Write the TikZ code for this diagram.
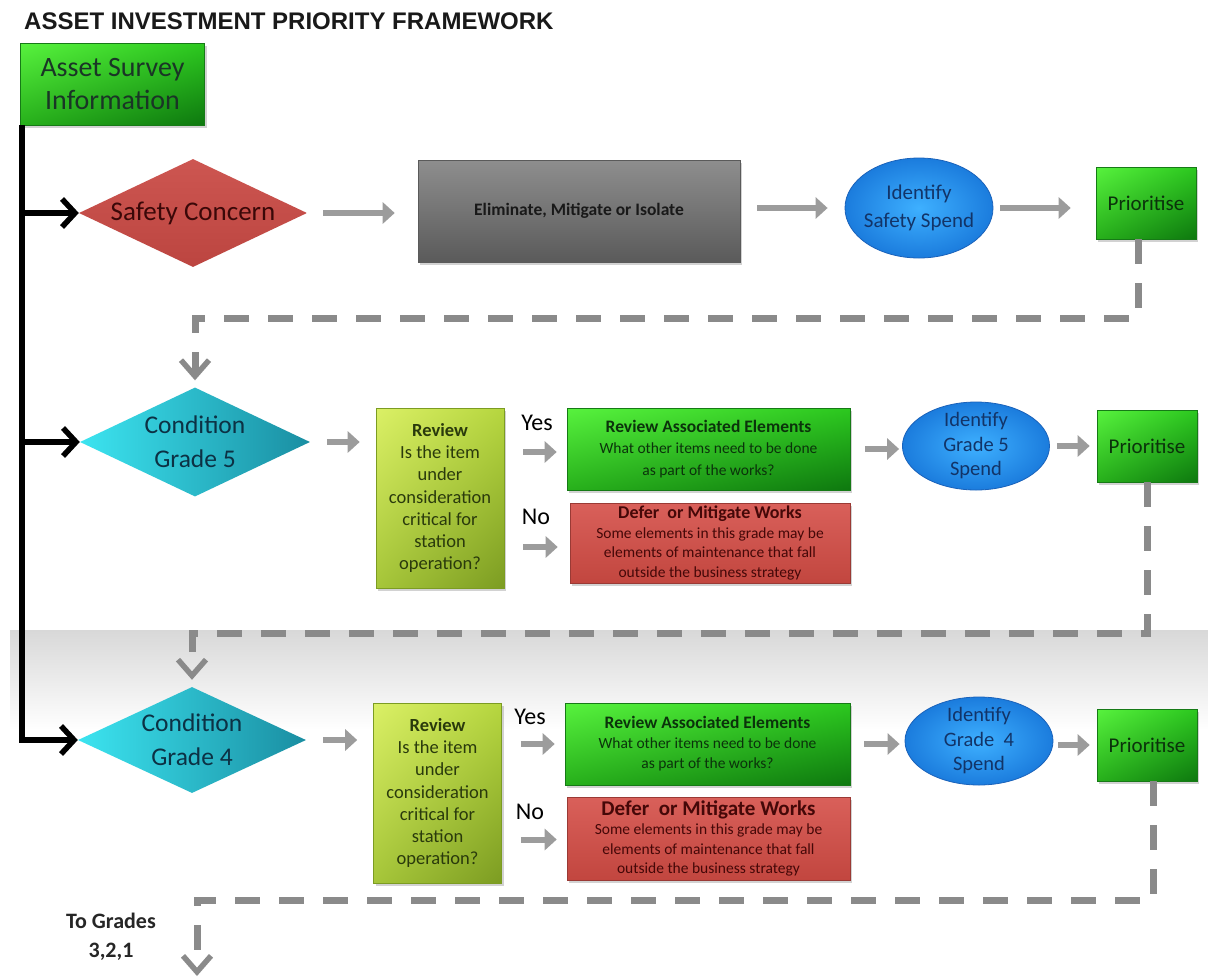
\documentclass[tikz,border=0pt]{standalone}
\usepackage{fontspec}
\setmainfont{Carlito}
\newfontfamily\titlefont{Liberation Sans}
\usetikzlibrary{shapes.geometric, arrows.meta, shadows, shadings}

\newcommand\setfs[2]{\fontsize{#1}{#2}\selectfont}

% palette
\definecolor{gUL}{HTML}{58F23E}
\definecolor{gUR}{HTML}{2CC81F}
\definecolor{gLL}{HTML}{27B01B}
\definecolor{gLR}{HTML}{0E780F}
\definecolor{gEdge}{HTML}{167A16}
\definecolor{safetyTop}{HTML}{CD5651}
\definecolor{safetyBot}{HTML}{BC4540}
\definecolor{redTop}{HTML}{D9605A}
\definecolor{redBot}{HTML}{C2463F}
\definecolor{redEdge}{HTML}{9A3A35}
\definecolor{cyanL}{HTML}{3CE4F0}
\definecolor{cyanR}{HTML}{1A8EA2}
\definecolor{blueIn}{HTML}{3EB0FF}
\definecolor{blueOut}{HTML}{1B7CDD}
\definecolor{blueEdge}{HTML}{1A62BA}
\definecolor{ygUL}{HTML}{DBF066}
\definecolor{ygUR}{HTML}{B6D63F}
\definecolor{ygLL}{HTML}{A6C639}
\definecolor{ygLR}{HTML}{7C9C22}
\definecolor{greyTop}{HTML}{8E8E8E}
\definecolor{greyMid}{HTML}{DADADA}
\definecolor{greyBot}{HTML}{5A5A5A}
\definecolor{arrowGrey}{HTML}{9C9C9C}
\definecolor{dashGrey}{HTML}{8A8A8A}
\definecolor{bandGrey}{HTML}{D8D8D8}
\definecolor{tAsset}{HTML}{1A3526}
\definecolor{tCond}{HTML}{0C3144}
\definecolor{tSafety}{HTML}{3A0808}
\definecolor{tBlue}{HTML}{123468}
\definecolor{tGreen}{HTML}{0B330B}
\definecolor{tReview}{HTML}{2A3A0C}
\definecolor{tRed}{HTML}{450808}

\tikzset{
  shadowed/.style={drop shadow={shadow xshift=2pt, shadow yshift=-2.5pt, opacity=0.35}},
  greenbox/.style={rectangle, inner sep=0pt, align=center, shadowed,
    upper left=gUL, upper right=gUR, lower left=gLL, lower right=gLR,
    draw=gEdge, line width=0.6pt},
  redbox/.style={rectangle, inner sep=0pt, align=center, shadowed,
    top color=redTop, bottom color=redBot, draw=redEdge, line width=0.6pt,
    text=tRed, font=\setfs{15.5}{19.5}},
  reviewbox/.style={rectangle, inner sep=0pt, align=center, shadowed,
    upper left=ygUL, upper right=ygUR, lower left=ygLL, lower right=ygLR,
    draw=ygLR, line width=0.6pt, text=tReview, font=\setfs{18.5}{22.2},
    minimum width=128pt, minimum height=180pt},
  greybox/.style={rectangle, inner sep=0pt, align=center, shadowed,
    top color=greyTop, middle color=greyMid, bottom color=greyBot,
    draw=greyBot, line width=0.6pt},
  prio/.style={greenbox, minimum width=100pt, minimum height=72pt,
    text=tGreen, font=\setfs{21}{25}},
  diam/.style={diamond, inner sep=0pt, aspect=2.1},
  spend/.style={ellipse, inner sep=0pt, inner color=blueIn, outer color=blueOut,
    draw=blueEdge, line width=0.8pt},
  lbl/.style={inner sep=0pt, align=center},
  yesno/.style={inner sep=0pt, font=\setfs{24}{28}, text=black},
  garrow/.style={draw=arrowGrey, line width=6pt,
    -{Triangle[length=12pt, width=21pt, fill=arrowGrey]}},
  blackarrow/.style={draw=black, line width=5.5pt,
    -{Straight Barb[length=13pt, width=28pt]}},
  dashconn/.style={draw=dashGrey, line width=7pt, dash pattern=on 25pt off 19pt,
    -{Straight Barb[length=16pt, width=28pt, line width=5.5pt]}},
}

\begin{document}
\begin{tikzpicture}[x=1pt, y=-1pt]
\useasboundingbox (0,0) rectangle (1208,978);
\fill[white] (0,0) rectangle (1208,978);
% shaded band behind the grade 4 row
\shade[top color=bandGrey, bottom color=white] (10,630) rectangle (1208,730);

% heading
\node[anchor=west, inner sep=0pt, font=\titlefont\bfseries\setfs{24}{28}, text=black!90]
  (title) at (24,21) {ASSET INVESTMENT PRIORITY FRAMEWORK};

% survey input
\node[greenbox, minimum width=184pt, minimum height=82pt, text=tAsset,
  font=\setfs{28}{33}] (asb) at (112.5,84) {Asset Survey\\Information};

% ---- safety row ----
\node[diam, minimum width=228pt, minimum height=108pt,
  top color=safetyTop, bottom color=safetyBot] (sc) at (193,213) {};
\node[lbl, font=\setfs{27}{32}, text=tSafety] (sct) at (sc) {Safety Concern};
\node[greybox, minimum width=322pt, minimum height=102pt,
  font=\bfseries\setfs{17.5}{21}, text=black!90] (elim) at (579,211)
  {Eliminate, Mitigate or Isolate};
\node[spend, minimum width=148pt, minimum height=100pt] (e0) at (919,208) {};
\node[lbl, font=\setfs{21}{28}, text=tBlue] (e0t) at (e0) {Identify\\Safety Spend};
\node[prio] (p0) at (1146,203) {Prioritise};

% ---- grade 5 row ----
\node[diam, minimum width=230pt, minimum height=109pt,
  left color=cyanL, right color=cyanR] (c5) at (195,442) {};
\node[lbl, font=\setfs{25.5}{34}, text=tCond] (c5t) at (c5) {Condition\\Grade 5};
\node[reviewbox] (rv5) at (440,498)
  {{\bfseries Review}\\Is the item\\under\\consideration\\critical for\\station\\operation?};
\node[yesno] (yes5) at (537,423) {Yes};
\node[yesno] (no5) at (536,517) {No};
\node[greenbox, minimum width=283pt, minimum height=82pt, text=tGreen,
  font=\setfs{15.5}{21.5}] (g5) at (708.5,449)
  {{\bfseries\setfs{17.5}{21.5}Review Associated Elements}\\What other items need to be done\\as part of the works?};
\node[redbox, minimum width=280pt, minimum height=80pt] (r5) at (710,543)
  {{\bfseries\setfs{18}{20}Defer\ \ or Mitigate Works}\\Some elements in this grade may be\\elements of maintenance that fall\\outside the business strategy};
\node[spend, minimum width=147pt, minimum height=88pt] (e5) at (976,446) {};
\node[lbl, font=\setfs{20.5}{24.5}, text=tBlue] (e5t) at (e5) {Identify\\Grade 5\\Spend};
\node[prio] (p5) at (1147,446) {Prioritise};

% ---- grade 4 row ----
\node[diam, minimum width=228pt, minimum height=106pt,
  left color=cyanL, right color=cyanR] (c4) at (192,740) {};
\node[lbl, font=\setfs{25.5}{34}, text=tCond] (c4t) at (c4) {Condition\\Grade 4};
\node[reviewbox] (rv4) at (437.5,793)
  {{\bfseries Review}\\Is the item\\under\\consideration\\critical for\\station\\operation?};
\node[yesno] (yes4) at (530,717) {Yes};
\node[yesno] (no4) at (530,812) {No};
\node[greenbox, minimum width=285pt, minimum height=82pt, text=tGreen,
  font=\setfs{15.5}{20}] (g4) at (707.5,744)
  {{\bfseries\setfs{17.5}{20}Review Associated Elements}\\What other items need to be done\\as part of the works?};
\node[redbox, minimum width=283pt, minimum height=83pt] (r4) at (708.5,838.5)
  {{\bfseries\setfs{21}{20}Defer\ \ or Mitigate Works}\\Some elements in this grade may be\\elements of maintenance that fall\\outside the business strategy};
\node[spend, minimum width=148pt, minimum height=88pt] (e4) at (979,741) {};
\node[lbl, font=\setfs{20.5}{24.5}, text=tBlue] (e4t) at (e4) {Identify\\Grade\ \ 4\\Spend};
\node[prio] (p4) at (1147,745) {Prioritise};

% onward note
\node[lbl, font=\bfseries\setfs{22}{29}, text=black!85] (more) at (111,937) {To Grades\\3,2,1};

% ---- black spine from the survey box ----
\coordinate (spine) at ([xshift=2pt]asb.south west);
\draw[blackarrow] (spine) |- (c4.west);
\draw[blackarrow] (spine |- sc.west) -- (sc.west);
\draw[blackarrow] (spine |- c5.west) -- (c5.west);

% ---- grey flow arrows ----
\draw[garrow, shorten <=16pt, shorten >=23pt] (sc.east) -- (sc.east -| elim.west);
\draw[garrow, shorten <=17pt, shorten >=17pt] (e0.west -| elim.east) -- (e0.west);
\draw[garrow, shorten <=7pt, shorten >=25pt] (e0.east) -- (e0.east -| p0.west);

\draw[garrow, shorten <=17pt, shorten >=16pt] (c5.east) -- (c5.east -| rv5.west);
\draw[garrow, shorten <=19pt, shorten >=10pt] ([yshift=-3pt]g5.west -| rv5.east) -- ([yshift=-3pt]g5.west);
\draw[garrow, shorten <=19pt, shorten >=12pt] ([yshift=-4pt]r5.west -| rv5.east) -- ([yshift=-4pt]r5.west);
\draw[garrow, shorten <=15pt, shorten >=3pt] (g5.east) -- (g5.east -| e5.west);
\draw[garrow, shorten <=7pt, shorten >=7pt] (e5.east |- p5.west) -- (p5.west);

\draw[garrow, shorten <=17pt, shorten >=16pt] (c4.east) -- (c4.east -| rv4.west);
\draw[garrow, shorten <=19pt, shorten >=10pt] (g4.west -| rv4.east) -- (g4.west);
\draw[garrow, shorten <=19pt, shorten >=10pt] ([yshift=-1pt]r4.west -| rv4.east) -- ([yshift=-1pt]r4.west);
\draw[garrow, shorten <=14pt, shorten >=5pt] (g4.east) -- (g4.east -| e4.west);
\draw[garrow, shorten <=5pt, shorten >=7pt] (e4.east |- p4.west) -- (p4.west);

% ---- dashed hand-over between stages ----
\coordinate (d0) at (0,318);
\coordinate (d5) at (0,633);
\coordinate (d4) at (0,900);
\coordinate (onward) at (197,976);
\draw[dashconn, shorten >=7pt] ([xshift=-8pt]p0.south) -- ([xshift=-8pt]p0.south |- d0)
  -- (c5.north |- d0) -- (c5.north);
\draw[dashconn, shorten >=7pt] (p5.south) -- (p5.south |- d5)
  -- (c4.north |- d5) -- (c4.north);
\draw[dashconn] ([xshift=6pt]p4.south) -- ([xshift=6pt]p4.south |- d4)
  -- (onward |- d4) -- (onward);
\end{tikzpicture}
\end{document}
